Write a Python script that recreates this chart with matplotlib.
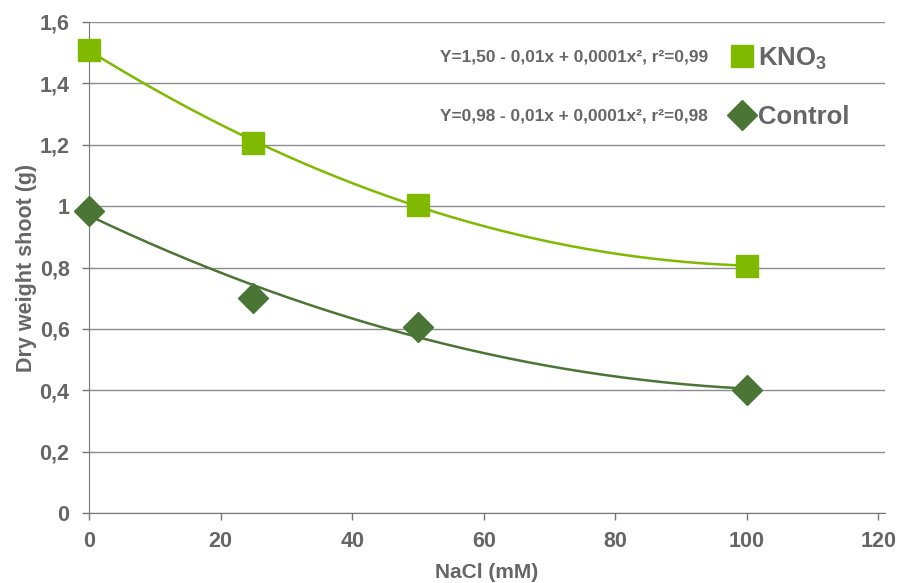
import numpy as np
import matplotlib.pyplot as plt
from matplotlib.lines import Line2D

plt.rcParams['font.family'] = ['Liberation Sans', 'DejaVu Sans']
plt.rcParams['mathtext.fontset'] = 'custom'
plt.rcParams['mathtext.bf'] = 'Liberation Sans:bold'
plt.rcParams['mathtext.rm'] = 'Liberation Sans:bold'

# data
nacl = [0, 25, 50, 100]
kno3 = [1.51, 1.205, 1.005, 0.805]
control = [0.985, 0.70, 0.605, 0.40]
eq_kno3 = 'Y=1,50 - 0,01x + 0,0001x\u00b2, r\u00b2=0,99'
eq_control = 'Y=0,98 - 0,01x + 0,0001x\u00b2, r\u00b2=0,98'
y_ticks = [0, 0.2, 0.4, 0.6, 0.8, 1.0, 1.2, 1.4, 1.6]
x_ticks = [0, 20, 40, 60, 80, 100, 120]

light = '#7fba00'
dark = '#4a7535'
grey = '#666666'

fig = plt.figure(figsize=(8.98, 5.83), dpi=100)
ax = fig.add_axes([0.0991, 0.120, 0.8864, 0.8423])

# quadratic trend lines
xs = np.linspace(0, 100, 200)
for y, c in [(kno3, light), (control, dark)]:
    p = np.polyfit(nacl, y, 2)
    ax.plot(xs, np.polyval(p, xs), color=c, lw=1.8, zorder=3)

ax.plot(nacl, kno3, 's', color=light, ms=15.5, zorder=4, clip_on=False)
ax.plot(nacl, control, 'D', color=dark, ms=15, zorder=4, clip_on=False)

ax.set_xlim(0, 121)
ax.set_ylim(0, 1.6)
ax.set_yticks(y_ticks)
ax.set_yticklabels([f'{v:g}'.replace('.', ',') for v in y_ticks])
ax.set_xticks(x_ticks)
ax.grid(axis='y', color='#8c8c8c', lw=1)
ax.set_axisbelow(True)
for s in ['top', 'right']:
    ax.spines[s].set_visible(False)
for s in ['left', 'bottom']:
    ax.spines[s].set_color('#777777')
ax.tick_params(colors='#777777', labelcolor=grey, labelsize=15.5, length=5, width=1)
ax.tick_params(axis='y', pad=9)
ax.tick_params(axis='x', pad=8)
for lab in ax.get_xticklabels() + ax.get_yticklabels():
    lab.set_fontweight('bold')

ax.set_xlabel('NaCl (mM)', fontsize=15, fontweight='bold', color=grey, labelpad=8)
ax.set_ylabel('Dry weight shoot (g)', fontsize=15.5, fontweight='bold', color=grey, labelpad=2)

handles = [Line2D([], [], ls='none', marker='s', color=light, ms=15.5),
           Line2D([], [], ls='none', marker='D', color=dark, ms=15)]
leg = ax.legend(handles, [r'KNO$_\mathbf{3}$', 'Control'], loc='upper left',
                bbox_to_anchor=(0.775, 1.0), frameon=False, fontsize=18.5,
                handlelength=1.0, handletextpad=0.12, labelspacing=1.3,
                borderaxespad=0.5)
for t in leg.get_texts():
    t.set_color(grey)
    t.set_fontweight('bold')

ax.text(708 / 898, 1 - 57 / 583, eq_kno3, transform=fig.transFigure, fontsize=12.4,
        fontweight='bold', color=grey, ha='right', va='center')
ax.text(708 / 898, 1 - 116 / 583, eq_control, transform=fig.transFigure, fontsize=12.4,
        fontweight='bold', color=grey, ha='right', va='center')

fig.savefig('out.png', dpi=100)
